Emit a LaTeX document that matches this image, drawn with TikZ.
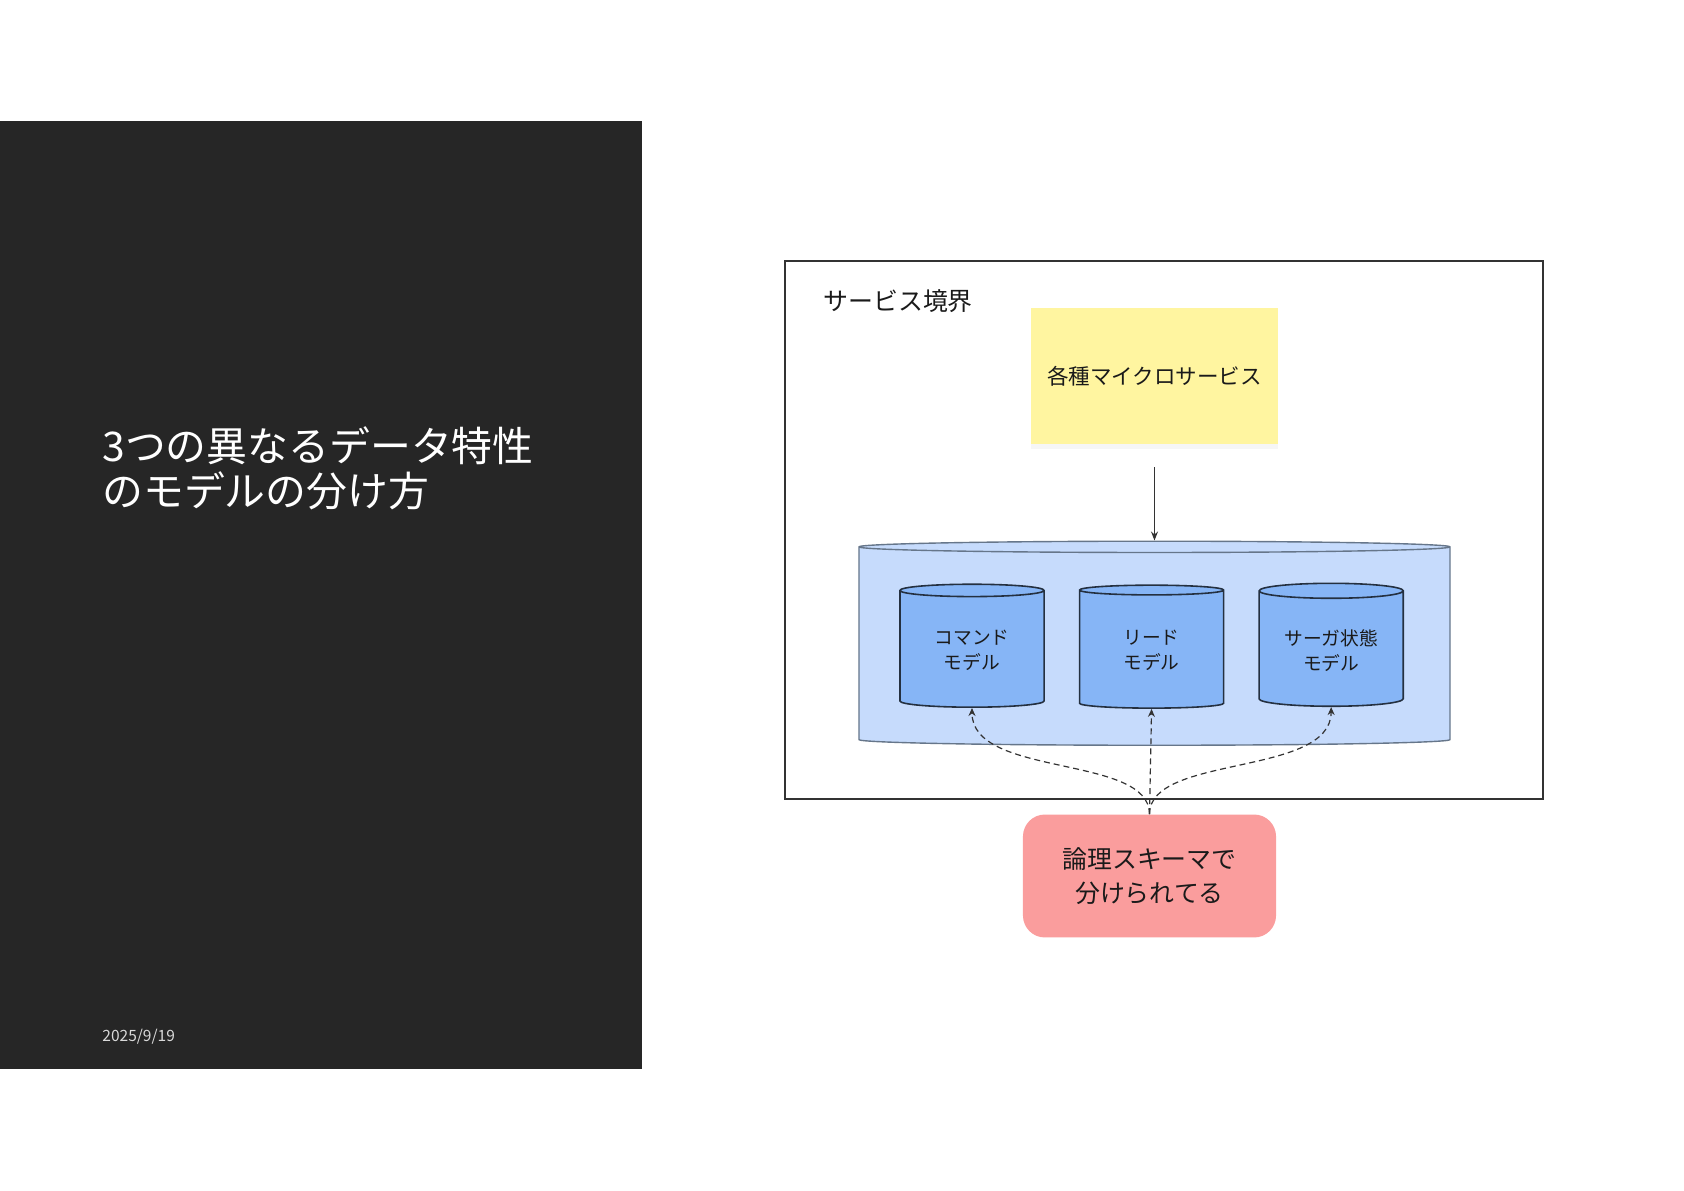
\documentclass[tikz,border=0pt]{standalone}
\usepackage{fontspec}
\setmainfont{Noto Sans CJK JP}
\usetikzlibrary{shapes.geometric, arrows.meta, positioning, shadows}
\definecolor{panelbg}{HTML}{262626}
\definecolor{stickybg}{HTML}{FFF5A0}
\definecolor{storebg}{HTML}{C6DBFC}
\definecolor{storeborder}{HTML}{66768A}
\definecolor{modelbg}{HTML}{86B5F6}
\definecolor{modelborder}{HTML}{243040}
\definecolor{notebg}{HTML}{FA9D9D}
\definecolor{linecolor}{HTML}{333333}
\definecolor{textcolor}{HTML}{1A1A1A}
\tikzset{
  boundbox/.style={
    draw=linecolor,
    line width=0.8pt,
    minimum width=380.4pt,
    minimum height=270pt
  },
  stickynote/.style={
    fill=stickybg,
    text=textcolor,
    font=\fontsize{10.8}{13}\selectfont,
    minimum width=124pt,
    minimum height=68.2pt,
    drop shadow={shadow xshift=0pt, shadow yshift=-2.5pt, opacity=0.07}
  },
  storecyl/.style={
    cylinder,
    shape border rotate=90,
    aspect=0.85,
    draw=storeborder,
    fill=storebg,
    line width=0.7pt,
    minimum width=296.6pt,
    minimum height=102.4pt
  },
  modelcyl/.style={
    cylinder,
    shape border rotate=90,
    aspect=0.14,
    draw=modelborder,
    fill=modelbg,
    line width=0.8pt,
    align=center,
    text=textcolor,
    font=\fontsize{9.4}{12.4}\selectfont,
    minimum width=72.3pt,
    minimum height=61.7pt
  },
  notebox/.style={
    fill=notebg,
    rounded corners=11pt,
    align=center,
    text=textcolor,
    font=\fontsize{12.5}{17.2}\selectfont,
    minimum width=127pt,
    minimum height=61.7pt
  },
  flowarrow/.style={
    -{Stealth[length=4.5pt, width=3.5pt]},
    line width=0.6pt,
    color=linecolor
  },
  mapsarrow/.style={
    -{Stealth[length=4pt, width=3.5pt]},
    line width=0.6pt,
    color=linecolor,
    dash pattern=on 3pt off 2pt
  }
}

\begin{document}
\begin{tikzpicture}[x=0.5018pt, y=-0.5018pt]

  \useasboundingbox (0,0) rectangle (1684,1191);

  % Left panel
  \fill [panelbg] (0,121) rectangle (642,1069);
  \node (title) [anchor=west, inner sep=0pt, align=left, text=white,
    font=\fontsize{20.5}{22.6}\selectfont] at (102,468.5)
    {3つの異なるデータ特性\\のモデルの分け方};
  \node (date) [anchor=west, inner sep=0pt, text=white!85!black,
    font=\fontsize{7.8}{9}\selectfont] at (102,1037) {2025/9/19};

  % Service boundary
  \node (boundary) [boundbox] at (1164,530) {};
  \node (boundlabel) [anchor=west, inner sep=0pt, text=textcolor,
    font=\fontsize{12.5}{15}\selectfont] at (823,301) {サービス境界};

  % Services and storage
  \node (services) [stickynote] at (1154.5,376) {各種マイクロサービス};
  \node (store) [storecyl] at (1154.5,647) {};

  \node (cmd) [modelcyl] at (972,650.5) {コマンド\\モデル};
  \node (read) [modelcyl, right=17pt of cmd] {リード\\モデル};
  \node (saga) [modelcyl, right=17pt of read] {サーガ状態\\モデル};

  % Note
  \node (schema) [notebox] at (1149.5,876) {論理スキーマで\\分けられてる};

  % Connectors
  \draw [flowarrow, shorten <=11.5pt] (services.south) -- (store.north);
  \draw [mapsarrow] (schema.north) .. controls +(0,-60) and +(0,70) .. (cmd.south);
  \draw [mapsarrow] (schema.north) -- (read.south);
  \draw [mapsarrow] (schema.north) .. controls +(0,-60) and +(0,70) .. (saga.south);

\end{tikzpicture}
\end{document}
